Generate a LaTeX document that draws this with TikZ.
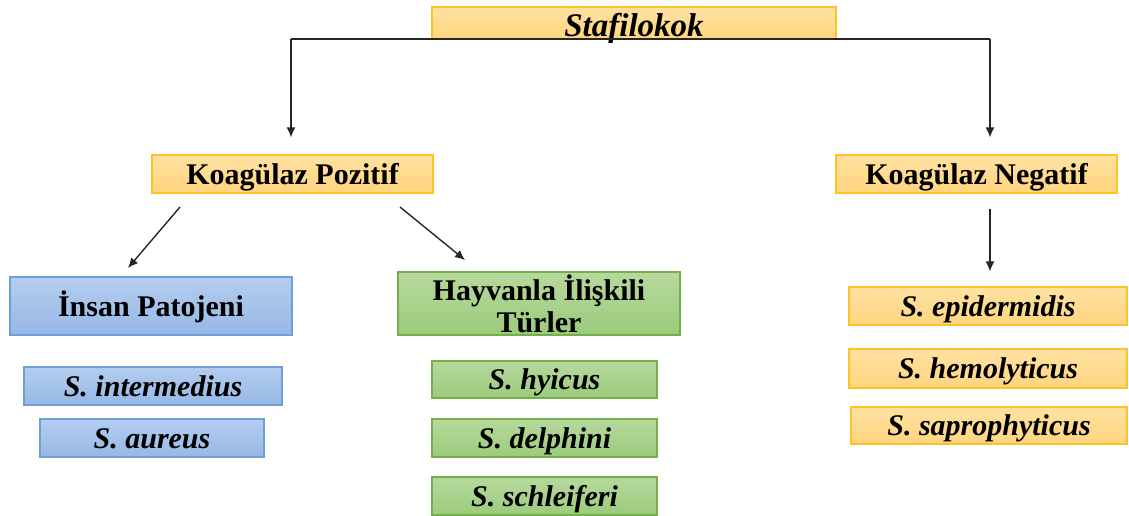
\documentclass[tikz,border=0pt]{standalone}
\usepackage{fontspec}
\setmainfont{Liberation Serif}
\usetikzlibrary{arrows.meta}
\definecolor{ortop}{HTML}{FFE2A2}
\definecolor{orbot}{HTML}{FFD47E}
\definecolor{ordraw}{HTML}{FFC326}
\definecolor{bltop}{HTML}{B4CDEF}
\definecolor{blbot}{HTML}{96B8E6}
\definecolor{bldraw}{HTML}{6E9ED8}
\definecolor{grtop}{HTML}{B6D99D}
\definecolor{grbot}{HTML}{9CCB7C}
\definecolor{grdraw}{HTML}{74AF4C}
\definecolor{linec}{HTML}{262626}
\tikzset{
  x=1pt,y=-1pt,
  box/.style={draw, line width=1.2pt, inner sep=0pt, align=center,
    font=\fontsize{30}{30}\selectfont\bfseries},
  tb/.style={text height=21pt, text depth=1pt},
  orbox/.style={box, draw=ordraw, top color=ortop, bottom color=orbot},
  blbox/.style={box, draw=bldraw, top color=bltop, bottom color=blbot},
  grbox/.style={box, draw=grdraw, top color=grtop, bottom color=grbot},
  sp/.style={font=\fontsize{30}{30}\selectfont\bfseries\itshape},
  arr/.style={draw=linec, line width=1.4pt, -{Latex[length=10pt,width=9pt]}},
  ln/.style={draw=linec, line width=1.4pt}
}
\begin{document}
\begin{tikzpicture}
\useasboundingbox (0,0) rectangle (1129,516);
% top
\node[orbox, minimum width=404pt, minimum height=30pt, text height=30pt, text depth=2pt,
  font=\fontsize{33}{33}\selectfont\bfseries\itshape] (staf) at (634,23) {Stafilokok};
\node[orbox, tb, minimum width=281pt, minimum height=38pt] (kp) at (292.5,174) {Koagülaz Pozitif};
\node[orbox, tb, minimum width=281pt, minimum height=38pt] (kn) at (976.5,174) {Koagülaz Negatif};
% left blue
\node[blbox, tb, minimum width=282pt, minimum height=58pt] (insan) at (151,306) {İnsan Patojeni};
\node[blbox, sp, tb, minimum width=258pt, minimum height=38pt] (inter) at (153,386) {S. intermedius};
\node[blbox, sp, tb, minimum width=224pt, minimum height=38pt] (aureus) at (152,438) {S. aureus};
% middle green
\node[grbox, minimum width=282pt, minimum height=63pt] (hayv) at (539,303.5) {Hayvanla İlişkili\\[2pt]Türler};
\node[grbox, sp, tb, minimum width=225pt, minimum height=37pt] (hyicus) at (544.5,379.5) {S. hyicus};
\node[grbox, sp, tb, minimum width=225pt, minimum height=38pt] (delph) at (544.5,438) {S. delphini};
\node[grbox, sp, tb, minimum width=225pt, minimum height=38pt] (schl) at (544.5,496) {S. schleiferi};
% right orange
\node[orbox, sp, tb, minimum width=278pt, minimum height=38pt] (epi) at (988,306) {S. epidermidis};
\node[orbox, sp, tb, minimum width=278pt, minimum height=39pt] (hemo) at (988,368.5) {S. hemolyticus};
\node[orbox, sp, tb, minimum width=276pt, minimum height=37pt] (sapro) at (989,425.5) {S. saprophyticus};
% connectors
\coordinate (jl) at (291,39);
\coordinate (jr) at (990,39);
\draw[ln] (jl) -- (jr);
\draw[arr, shorten >=17pt] (jl) -- (jl |- kp.north);
\draw[arr, shorten >=17pt] (jr) -- (jr |- kn.north);
\draw[arr, shorten <=15pt, shorten >=15pt] (jr |- kn.south) -- (jr |- epi.north);
\coordinate (a1) at (180,207);
\coordinate (a2) at (128,268);
\coordinate (b1) at (400,207);
\coordinate (b2) at (465,260);
\draw[arr] (a1) -- (a2);
\draw[arr] (b1) -- (b2);
\end{tikzpicture}
\end{document}
